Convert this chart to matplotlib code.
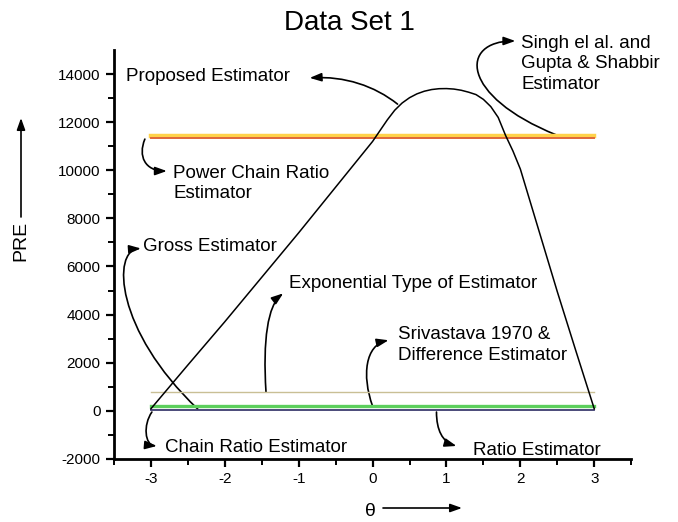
import numpy as np
import matplotlib.pyplot as plt
from matplotlib.patches import FancyArrowPatch
from matplotlib.path import Path

plt.rcParams['font.family'] = ['Liberation Sans', 'DejaVu Sans']
plt.rcParams['axes.unicode_minus'] = False

# proposed estimator curve
theta = [-3, -2.5, -2, -1.5, -1, -0.5, 0, 0.1, 0.2, 0.3, 0.4, 0.5, 0.6, 0.7, 0.8, 0.9, 1.0,
         1.1, 1.2, 1.3, 1.4, 1.5, 1.6, 1.7, 1.8, 1.9, 2.0, 2.25, 2.5, 2.75, 3]
pre_proposed = [80, 1900, 3700, 5550, 7400, 9300, 11200, 11650, 12100, 12500, 12800, 13020,
                13180, 13290, 13360, 13395, 13400, 13380, 13330, 13250, 13150, 12950, 12650,
                12200, 11450, 10800, 10050, 7500, 4950, 2500, 80]

# flat estimators
theta_flat = [-3, 3]
pre_singh_gupta = [11430, 11430]
pre_power_chain = [11360, 11360]
pre_exponential = [790, 790]
pre_srivastava = [200, 200]
pre_ratio = [40, 40]

xticks = [-3, -2, -1, 0, 1, 2, 3]
yticks = [-2000, 0, 2000, 4000, 6000, 8000, 10000, 12000, 14000]

fig = plt.figure(figsize=(6.78, 5.22), dpi=100)
ax = fig.add_axes([0.168, 0.121, 0.763, 0.783])

ax.plot(theta_flat, pre_singh_gupta, color='#ffd24a', lw=3.2)
ax.plot(theta_flat, pre_power_chain, color='#e0683a', lw=1.4)
ax.plot(theta_flat, pre_exponential, color='#c9bf95', lw=1.0)
ax.plot(theta_flat, pre_srivastava, color='#5ccf5c', lw=2.4)
ax.plot(theta_flat, pre_ratio, color='#3b3b6e', lw=1.3)
ax.plot(theta, pre_proposed, color='black', lw=1.1)

ax.set_xlim(-3.5, 3.5)
ax.set_ylim(-2000, 15000)
ax.set_xticks(xticks)
ax.set_yticks(yticks)
ax.set_xticks(np.arange(-3.5, 3.6, 0.5), minor=True)
ax.set_yticks(np.arange(-1000, 15000, 2000), minor=True)
ax.tick_params(which='major', direction='out', length=6, width=1.6, labelsize=11)
ax.tick_params(which='minor', direction='out', length=4, width=1.4)
ax.spines['top'].set_visible(False)
ax.spines['right'].set_visible(False)
ax.spines['left'].set_linewidth(2)
ax.spines['bottom'].set_linewidth(2)

fs = 13.5
head = '-|>,head_length=0.7,head_width=0.25'

# label text, text position, bezier (tail, ctrl1, ctrl2, arrow tip) in data units
notes = [
    ('Proposed Estimator', (-3.34, 13890),
     [(0.338, 12754), (0.027, 13512), (-0.378, 13927), (-0.851, 13844)]),
    ('Singh el al. and\nGupta & Shabbir\nEstimator', (2.01, 14425),
     [(2.49, 11468), (1.176, 13098), (1.176, 15380), (1.932, 15380)]),
    ('Power Chain Ratio\nEstimator', (-2.70, 9448),
     [(-3.081, 11298), (-3.176, 10593), (-3.081, 9971), (-2.784, 9971)]),
    ('Gross Estimator', (-3.11, 6835),
     [(-2.365, 70), (-3.486, 3348), (-3.527, 6668), (-3.135, 6750)]),
    ('Exponential Type of Estimator', (-1.135, 5278),
     [(-1.442, 788), (-1.486, 2933), (-1.419, 4385), (-1.209, 4883)]),
    ('Srivastava 1970 &\nDifference Estimator', (0.35, 2726),
     [(0.0, 195), (-0.149, 1481), (-0.095, 2726), (0.216, 2933)]),
    ('Chain Ratio Estimator', (-2.81, -1510),
     [(-2.986, -54), (-3.108, -593), (-3.081, -1423), (-2.919, -1465)]),
    ('Ratio Estimator', (1.365, -1670),
     [(0.865, -54), (0.865, -801), (0.946, -1299), (1.135, -1465)]),
]

for text, pos, verts in notes:
    ax.text(pos[0], pos[1], text, fontsize=fs, ha='left', va='center', linespacing=1.28)
    path = Path(verts, [Path.MOVETO, Path.CURVE4, Path.CURVE4, Path.CURVE4])
    arr = FancyArrowPatch(path=path, arrowstyle=head, mutation_scale=10, color='black',
                          lw=1.2, transform=ax.transData, clip_on=False)
    ax.add_patch(arr)

fig.text(0.516, 0.955, 'Data Set 1', fontsize=20, ha='center', va='center')

# axis labels with arrows
ap = dict(arrowstyle=head, color='black', lw=1.2, shrinkA=0, shrinkB=0)
fig.text(21 / 678, 1 - 241 / 522, 'PRE', fontsize=14, rotation=90, ha='center', va='center')
ax.annotate('', xy=(21 / 678, 1 - 118 / 522), xytext=(21 / 678, 1 - 217 / 522),
            xycoords='figure fraction', textcoords='figure fraction', annotation_clip=False,
            arrowprops=ap)
fig.text(370 / 678, 1 - 512 / 522, '\u03b8', fontsize=14, ha='center', va='center')
ax.annotate('', xy=(462 / 678, 1 - 508 / 522), xytext=(383 / 678, 1 - 508 / 522),
            xycoords='figure fraction', textcoords='figure fraction', annotation_clip=False,
            arrowprops=ap)

fig.savefig('out.png', dpi=100)
